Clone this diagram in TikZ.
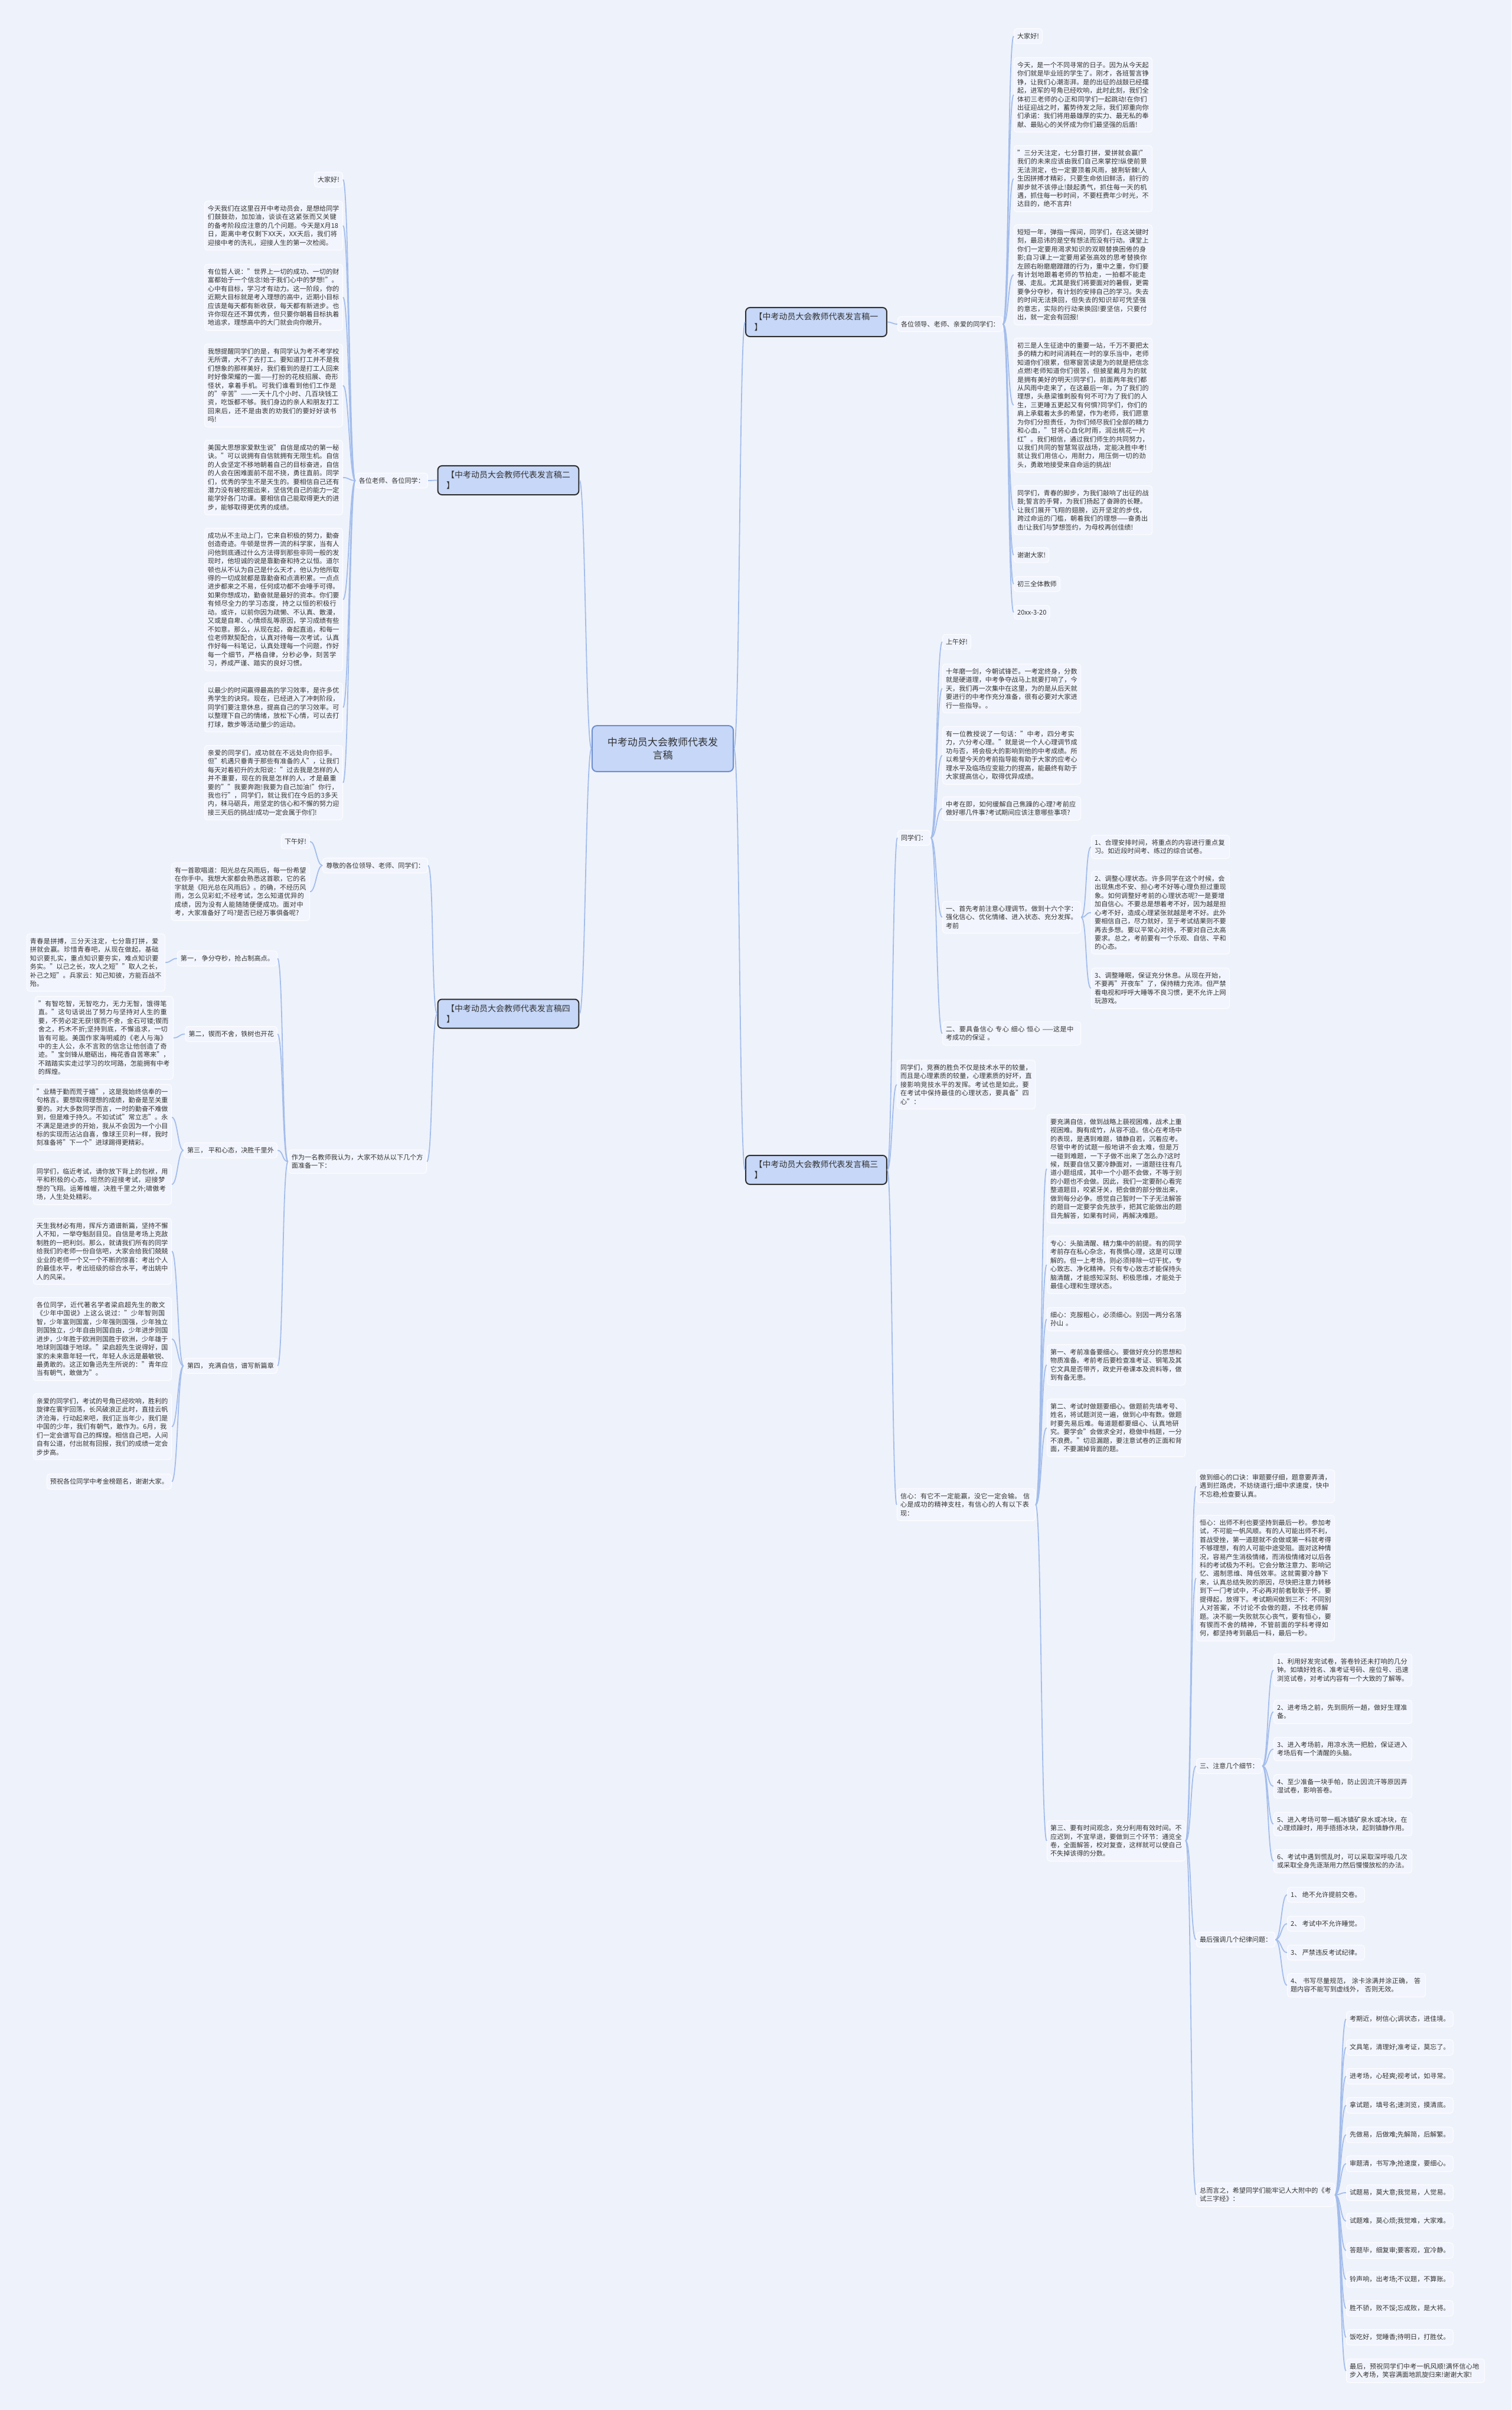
\documentclass[tikz,border=0pt]{standalone}
\usepackage{fontspec}
\setmainfont{Noto Sans CJK SC}
\XeTeXlinebreaklocale "zh"
\XeTeXlinebreakskip=0pt plus 0.5pt
\usepackage{tikz}
\definecolor{bgcol}{HTML}{EEF2FB}
\definecolor{boxfill}{HTML}{F2F5FD}
\definecolor{boxline}{HTML}{FDFDFF}
\definecolor{linkcol}{HTML}{A3BDEB}
\definecolor{branchfill}{HTML}{C6D7F8}
\definecolor{branchline}{HTML}{2F2F2F}
\definecolor{rootline}{HTML}{6F8FCF}
\definecolor{textcol}{HTML}{333333}

\begin{document}
\begin{tikzpicture}[
  link/.style={draw=linkcol, line width=0.018cm},
  txt/.style={draw=boxline, fill=boxfill, line width=0.012cm, rounded corners=0.05cm, inner xsep=0.055cm, inner ysep=0.075cm, text=textcol, font=\fontsize{3.16}{4.1}\selectfont},
  para/.style={txt, text width=2.23cm, align=left},
  branch/.style={draw=branchline, fill=branchfill, line width=0.02cm, rounded corners=0.07cm, inner xsep=0.145cm, inner ysep=0.09cm, text=textcol, align=left, font=\fontsize{3.98}{5.12}\selectfont},
  root/.style={draw=rootline, fill=branchfill, line width=0.02cm, rounded corners=0.08cm, inner xsep=0.26cm, inner ysep=0.2cm, text=textcol, align=center, font=\fontsize{4.84}{6.26}\selectfont}
]
\fill[bgcol] (0,0) rectangle (25.60,-40.82);
\useasboundingbox (0,0) rectangle (25.60,-40.82);

\node[root] (MapC) at (11.225,-12.68) {中考动员大会教师代表发\\言稿};
\node[branch] (Map1) at (13.825,-5.455) {【中考动员大会教师代表发言稿一\\】};
\node[branch] (Map2) at (8.61,-8.135) {【中考动员大会教师代表发言稿二\\】};
\node[branch] (Map4) at (8.61,-17.17) {【中考动员大会教师代表发言稿四\\】};
\node[branch] (Map3) at (13.825,-19.815) {【中考动员大会教师代表发言稿三\\】};

\node[txt, anchor=west] (Map1T) at (15.20,-5.49) {各位领导、老师、亲爱的同学们：};
\node[txt, anchor=north west] (Map1N1) at (17.17,-0.48) {大家好!};
\node[para, anchor=north west] (Map1N2) at (17.17,-0.97) {今天，是一个不同寻常的日子。因为从今天起你们就是毕业班的学生了。刚才，各班誓言铮铮，让我们心潮澎湃。是的出征的战鼓已经擂起，进军的号角已经吹响，此时此刻，我们全体初三老师的心正和同学们一起跳动!在你们出征迎战之时，蓄势待发之际，我们郑重向你们承诺：我们将用最雄厚的实力、最无私的奉献、最贴心的关怀成为你们最坚强的后盾!};
\node[para, anchor=north west] (Map1N3) at (17.17,-2.46) {"三分天注定，七分靠打拼，爱拼就会赢!"我们的未来应该由我们自己来掌控!纵使前景无法测定，也一定要顶着风雨，披荆斩棘!人生因拼搏才精彩，只要生命依旧鲜活，前行的脚步就不该停止!鼓起勇气，抓住每一天的机遇，抓住每一秒时间，不要枉费年少时光，不达目的，绝不言弃!};
\node[para, anchor=north west] (Map1N4) at (17.17,-3.80) {短短一年，弹指一挥间，同学们，在这关键时刻，最忌讳的是空有想法而没有行动。课堂上你们一定要用渴求知识的双眼替换困倦的身影;自习课上一定要用紧张高效的思考替换你左顾右盼磨磨蹭蹭的行为，重中之重，你们要有计划地跟着老师的节拍走，一拍都不能走慢、走乱。尤其是我们将要面对的暑假，更需要争分夺秒，有计划的安排自己的学习。失去的时间无法换回，但失去的知识却可凭坚强的意志，实际的行动来换回!要坚信，只要付出，就一定会有回报!};
\node[para, anchor=north west] (Map1N5) at (17.17,-5.72) {初三是人生征途中的重要一站，千万不要把太多的精力和时间消耗在一时的享乐当中，老师知道你们很累，但寒窗苦读是为的就是把信念点燃!老师知道你们很苦，但披星戴月为的就是拥有美好的明天!同学们，前面两年我们都从风雨中走来了，在这最后一年，为了我们的理想，头悬梁锥刺股有何不可?为了我们的人生，三更睡五更起又有何惧?同学们，你们的肩上承载着太多的希望，作为老师，我们愿意为你们分担责任，为你们倾尽我们全部的精力和心血，"甘将心血化时雨，润出桃花一片红"。我们相信，通过我们师生的共同努力，以我们共同的智慧驾驭战场，定能决胜中考!就让我们用信心，用耐力，用压倒一切的劲头，勇敢地接受来自命运的挑战!};
\node[para, anchor=north west] (Map1N6) at (17.17,-8.22) {同学们，青春的脚步，为我们敲响了出征的战鼓;誓言的手臂，为我们扬起了奋蹄的长鞭。让我们展开飞翔的翅膀，迈开坚定的步伐，跨过命运的门槛，朝着我们的理想——奋勇出击!让我们与梦想签约，为母校再创佳绩!};
\node[txt, anchor=north west] (Map1N7) at (17.17,-9.27) {谢谢大家!};
\node[txt, anchor=north west] (Map1N8) at (17.17,-9.76) {初三全体教师};
\node[txt, anchor=north west] (Map1N9) at (17.17,-10.25) {20xx-3-20};

\node[txt, anchor=east] (Map2T) at (7.25,-8.14) {各位老师、各位同学：};
\node[txt, anchor=north east] (Map2N1) at (5.81,-2.91) {大家好!};
\node[para, anchor=north east] (Map2N2) at (5.81,-3.40) {今天我们在这里召开中考动员会，是想给同学们鼓鼓劲，加加油，谈谈在这紧张而又关键的备考阶段应注意的几个问题。今天是X月18日，距离中考仅剩下XX天，XX天后，我们将迎接中考的洗礼，迎接人生的第一次检阅。};
\node[para, anchor=north east] (Map2N3) at (5.81,-4.47) {有位哲人说："世界上一切的成功、一切的财富都始于一个信念!始于我们心中的梦想!"。心中有目标，学习才有动力。这一阶段，你的近期大目标就是考入理想的高中，近期小目标应该是每天都有新收获，每天都有新进步。也许你现在还不算优秀，但只要你朝着目标执着地追求，理想高中的大门就会向你敞开。};
\node[para, anchor=north east] (Map2N4) at (5.81,-5.82) {我想提醒同学们的是，有同学认为考不考学校无所谓，大不了去打工。要知道打工并不是我们想象的那样美好，我们看到的是打工人回来时好像荣耀的一面——打扮的花枝招展、奇形怪状，拿着手机。可我们谁看到他们工作是的"辛苦"——一天十几个小时、几百块钱工资，吃饭都不够。我们身边的亲人和朋友打工回来后，还不是由衷的劝我们的要好好读书吗!};
\node[para, anchor=north east] (Map2N5) at (5.81,-7.45) {美国大思想家爱默生说"自信是成功的第一秘诀。"可以说拥有自信就拥有无限生机。自信的人会坚定不移地朝着自己的目标奋进，自信的人会在困难面前不屈不挠，勇往直前。同学们，优秀的学生不是天生的。要相信自己还有潜力没有被挖掘出来，坚信凭自己的能力一定能学好各门功课。要相信自己能取得更大的进步，能够取得更优秀的成绩。};
\node[para, anchor=north east] (Map2N6) at (5.81,-8.94) {成功从不主动上门，它来自积极的努力，勤奋创造奇迹。牛顿是世界一流的科学家，当有人问他到底通过什么方法得到那些非同一般的发现时，他坦诚的说是靠勤奋和持之以恒。道尔顿也从不认为自己是什么天才，他认为他所取得的一切成就都是靠勤奋和点滴积累。一点点进步都来之不易，任何成功都不会唾手可得。如果你想成功，勤奋就是最好的资本。你们要有倾尽全力的学习态度，持之以恒的积极行动。或许，以前你因为疏懒、不认真、散漫，又或是自卑、心情烦乱等原因，学习成绩有些不如意。那么，从现在起，奋起直追，和每一位老师默契配合，认真对待每一次考试，认真作好每一科笔记，认真处理每一个问题，作好每一个细节，严格自律，分秒必争，刻苦学习，养成严谨、踏实的良好习惯。};
\node[para, anchor=north east] (Map2N7) at (5.81,-11.56) {以最少的时间赢得最高的学习效率，是许多优秀学生的诀窍。现在，已经进入了冲刺阶段，同学们要注意休息，提高自己的学习效率。可以整理下自己的情绪，放松下心情，可以去打打球，散步等活动量少的运动。};
\node[para, anchor=north east] (Map2N8) at (5.81,-12.62) {亲爱的同学们，成功就在不远处向你招手。但"机遇只垂青于那些有准备的人"，让我们每天对着初升的太阳说："过去我是怎样的人并不重要，现在的我是怎样的人，才是最重要的""我要奔跑!我要为自己加油!"你行，我也行"，同学们，就让我们在今后的3多天内，秣马砺兵，用坚定的信心和不懈的努力迎接三天后的挑战!成功一定会属于你们!};

\node[txt, anchor=east] (Map4T) at (7.25,-14.66) {尊敬的各位领导、老师、同学们：};
\node[txt, anchor=north east] (Map4N1) at (5.25,-14.12) {下午好!};
\node[para, anchor=north east] (Map4N2) at (5.25,-14.61) {有一首歌唱道：阳光总在风雨后，每一份希望在你手中。我想大家都会熟悉这首歌，它的名字就是《阳光总在风雨后》。的确，不经历风雨，怎么见彩虹;不经考试，怎么知道优异的成绩，因为没有人能随随便便成功。面对中考，大家准备好了吗?是否已经万事俱备呢?};
\node[para, anchor=north east] (Map4U) at (7.23,-19.47) {作为一名教师我认为，大家不妨从以下几个方面准备一下：};
\node[txt, anchor=north east] (Map4D1) at (4.70,-16.10) {第一， 争分夺秒，抢占制高点。};
\node[txt, anchor=north east] (Map4D2) at (4.70,-17.38) {第二，锲而不舍，铁树也开花};
\node[txt, anchor=north east] (Map4D3) at (4.70,-19.35) {第三， 平和心态，决胜千里外};
\node[txt, anchor=north east] (Map4D4) at (4.70,-23.00) {第四， 充满自信，谱写新篇章};
\node[para, anchor=north east] (Map4D1C1) at (2.80,-15.81) {青春是拼搏，三分天注定，七分靠打拼，爱拼就会赢。珍惜青春吧，从现在做起，基础知识要扎实，重点知识要夯实，难点知识要务实。"以己之长，攻人之短""取人之长，补己之短"。兵家云：知己知彼，方能百战不殆。};
\node[para, anchor=north east] (Map4D2C1) at (2.94,-16.87) {"有智吃智，无智吃力，无力无智，饿得笔直。"这句话说出了努力与坚持对人生的重要，不劳必定无获!锲而不舍，金石可镂;锲而舍之，朽木不折;坚持到底，不懈追求，一切皆有可能。美国作家海明威的《老人与海》中的主人公，永不言败的信念让他创造了奇迹。"宝剑锋从磨砺出，梅花香自苦寒来"，不踏踏实实走过学习的坎坷路，怎能拥有中考的辉煌。};
\node[para, anchor=north east] (Map4D3C1) at (2.91,-18.36) {"业精于勤而荒于嬉"，这是我始终信奉的一句格言。要想取得理想的成绩，勤奋是至关重要的。对大多数同学而言，一时的勤奋不难做到，但是难于持久。不如试试"常立志"。永不满足是进步的开始，我从不会因为一个小目标的实现而沾沾自喜，像球王贝利一样，我时刻准备将"下一个"进球踢得更精彩。};
\node[para, anchor=north east] (Map4D3C2) at (2.91,-19.71) {同学们，临近考试，请你放下背上的包袱，用平和积极的心态，坦然的迎接考试，迎接梦想的飞翔。运筹帷幄，决胜千里之外;啸傲考场，人生处处精彩。};
\node[para, anchor=north east] (Map4D4C1) at (2.91,-20.63) {天生我材必有用，挥斥方遒谱新篇，坚持不懈人不知，一举夺魁刮目见。自信是考场上克敌制胜的一把利剑。那么，就请我们所有的同学给我们的老师一份自信吧，大家会给我们兢兢业业的老师一个又一个不断的惊喜：考出个人的最佳水平，考出班级的综合水平，考出姚中人的风采。};
\node[para, anchor=north east] (Map4D4C2) at (2.91,-21.97) {各位同学，近代著名学者梁启超先生的散文《少年中国说》上这么说过："少年智则国智，少年富则国富，少年强则国强，少年独立则国独立，少年自由则国自由，少年进步则国进步，少年胜于欧洲则国胜于欧洲，少年雄于地球则国雄于地球。"梁启超先生说得好，国家的未来靠年轻一代，年轻人永远是最敏锐、最勇敢的。这正如鲁迅先生所说的："青年应当有朝气，敢做为"。};
\node[para, anchor=north east] (Map4D4C3) at (2.91,-23.60) {亲爱的同学们，考试的号角已经吹响，胜利的旋律在寰宇回荡，长风破浪正此时，直挂云帆济沧海，行动起来吧，我们正当年少，我们是中国的少年，我们有朝气，敢作为。6月，我们一定会谱写自己的辉煌。相信自己吧，人间自有公道，付出就有回报，我们的成绩一定会步步高。};
\node[txt, anchor=north east] (Map4D4C4) at (2.91,-24.96) {预祝各位同学中考金榜题名，谢谢大家。};

\node[txt, anchor=west] (Map3T) at (15.20,-14.19) {同学们：};
\node[txt, anchor=north west] (Map3N1) at (15.96,-10.74) {上午好!};
\node[para, anchor=north west] (Map3N2) at (15.96,-11.24) {十年磨一剑，今朝试锋芒。一考定终身，分数就是硬道理，中考争夺战马上就要打响了，今天，我们再一次集中在这里，为的是从后天就要进行的中考作充分准备，很有必要对大家进行一些指导。。};
\node[para, anchor=north west] (Map3N3) at (15.96,-12.30) {有一位教授说了一句话："中考，四分考实力，六分考心理。"就是说一个人心理调节成功与否，将会极大的影响到他的中考成绩。所以希望今天的考前指导能有助于大家的应考心理水平及临场应变能力的提高，能最终有助于大家提高信心，取得优异成绩。};
\node[para, anchor=north west] (Map3N4) at (15.96,-13.49) {中考在即，如何缓解自己焦躁的心理?考前应做好哪几件事?考试期间应该注意哪些事项?};
\node[para, anchor=north west] (Map3N5) at (15.96,-15.26) {一、首先考前注意心理调节。做到十六个字：强化信心、优化情绪、进入状态、充分发挥。考前};
\node[para, anchor=north west] (Map3N6) at (15.96,-17.30) {二、要具备信心 专心 细心 恒心 ——这是中考成功的保证 。};
\node[para, anchor=north west] (Map3N5I1) at (18.48,-14.14) {1、合理安排时间，将重点的内容进行重点复习。如近段时间考、练过的综合试卷。};
\node[para, anchor=north west] (Map3N5I2) at (18.48,-14.75) {2、调整心理状态。许多同学在这个时候，会出现焦虑不安、担心考不好等心理负担过重现象。如何调整好考前的心理状态呢?一是要增加自信心。不要总是想着考不好，因为越是担心考不好，造成心理紧张就越是考不好。此外要相信自己，尽力就好，至于考试结果则不要再去多想。要以平常心对待，不要对自己太高要求。总之，考前要有一个乐观、自信、平和的心态。};
\node[para, anchor=north west] (Map3N5I3) at (18.48,-16.39) {3、调整睡眠，保证充分休息。从现在开始，不要再"开夜车"了，保持精力充沛。但严禁看电视和呼呼大睡等不良习惯，更不允许上网玩游戏。};
\node[para, anchor=north west] (Map3S) at (15.19,-17.95) {同学们，竞赛的胜负不仅是技术水平的较量，而且是心理素质的较量，心理素质的好坏，直接影响竞技水平的发挥。考试也是如此，要在考试中保持最佳的心理状态，要具备"四心"：};
\node[para, anchor=north west] (Map3X) at (15.19,-25.21) {信心：有它不一定能赢，没它一定会输。 信心是成功的精神支柱，有信心的人有以下表现：};
\node[para, anchor=north west] (Map3X1) at (17.73,-18.87) {要充满自信，做到战略上藐视困难，战术上重视困难。胸有成竹，从容不迫。信心在考场中的表现，是遇到难题，镇静自若，沉着应考。尽管中考的试题一般地讲不会太难，但是万一碰到难题，一下子做不出来了怎么办?这时候，既要自信又要冷静面对，一道题往往有几道小题组成，其中一个小题不会做，不等于别的小题也不会做。因此，我们一定要耐心看完整道题目，咬紧牙关，把会做的部分做出来，做到每分必争。感觉自己暂时一下子无法解答的题目一定要学会先放手，把其它能做出的题目先解答，如果有时间，再解决难题。};
\node[para, anchor=north west] (Map3X2) at (17.73,-20.93) {专心：头脑清醒、精力集中的前提。有的同学考前存在私心杂念，有畏惧心理，这是可以理解的。但一上考场，则必须排除一切干扰，专心致志、净化精神。只有专心致志才能保持头脑清醒，才能感知深刻、积极思维，才能处于最佳心理和生理状态。};
\node[para, anchor=north west] (Map3X3) at (17.73,-22.14) {细心：克服粗心，必须细心。别因一两分名落孙山 。};
\node[para, anchor=north west] (Map3X4) at (17.73,-22.77) {第一、考前准备要细心。要做好充分的思想和物质准备。考前考后要检查准考证、钢笔及其它文具是否带齐，政史开卷课本及资料等，做到有备无患。};
\node[para, anchor=north west] (Map3X5) at (17.73,-23.69) {第二、考试时做题要细心。做题前先填考号、姓名，将试题浏览一遍，做到心中有数。做题时要先易后难。每道题都要细心、认真地研究。要学会"会做求全对，稳做中档题，一分不浪费。"切忌漏题，要注意试卷的正面和背面，不要漏掉背面的题。};
\node[para, anchor=north west] (Map3Y) at (17.73,-30.83) {第三、要有时间观念，充分利用有效时间。不应迟到，不宜早退，要做到三个环节：通览全卷，全面解答，校对复查，这样就可以使自己不失掉该得的分数。};
\node[para, anchor=north west] (Map3Y1) at (20.26,-24.89) {做到细心的口诀：审题要仔细，题意要弄清，遇到拦路虎，不妨绕道行;细中求速度，快中不忘稳;检查要认真。};
\node[para, anchor=north west] (Map3Y2) at (20.26,-25.66) {恒心：出师不利也要坚持到最后一秒。参加考试，不可能一帆风顺。有的人可能出师不利，首战受挫，第一道题就不会做或第一科就考得不够理想，有的人可能中途受阻。面对这种情况，容易产生消极情绪，而消极情绪对以后各科的考试极为不利。它会分散注意力、影响记忆、遏制思维、降低效率。这就需要冷静下来，认真总结失败的原因，尽快把注意力转移到下一门考试中，不必再对前者耿耿于怀。要提得起，放得下。考试期间做到三不：不同别人对答案，不讨论不会做的题，不找老师解题。决不能一失败就灰心丧气，要有恒心，要有锲而不舍的精神，不管前面的学科考得如何，都坚持考到最后一科，最后一秒。};
\node[txt, anchor=north west] (Map3Y3) at (20.26,-29.78) {三、注意几个细节：};
\node[txt, anchor=north west] (Map3Y4) at (20.26,-32.72) {最后强调几个纪律问题：};
\node[para, anchor=north west] (Map3Y5) at (20.26,-36.97) {总而言之，希望同学们能牢记人大附中的《考试三字经》：};
\node[para, anchor=north west] (Map3Y3I1) at (21.57,-28.01) {1、利用好发完试卷，答卷铃还未打响的几分钟。如填好姓名、准考证号码、座位号、迅速浏览试卷，对考试内容有一个大致的了解等。};
\node[para, anchor=north west] (Map3Y3I2) at (21.57,-28.79) {2、进考场之前，先到厕所一趟，做好生理准备。};
\node[para, anchor=north west] (Map3Y3I3) at (21.57,-29.42) {3、进入考场前，用凉水洗一把脸，保证进入考场后有一个清醒的头脑。};
\node[para, anchor=north west] (Map3Y3I4) at (21.57,-30.05) {4、至少准备一块手帕，防止因流汗等原因弄湿试卷，影响答卷。};
\node[para, anchor=north west] (Map3Y3I5) at (21.57,-30.69) {5、进入考场可带一瓶冰镇矿泉水或冰块，在心理烦躁时，用手捂捂冰块，起到镇静作用。};
\node[para, anchor=north west] (Map3Y3I6) at (21.57,-31.32) {6、考试中遇到慌乱时，可以采取深呼吸几次或采取全身先逐渐用力然后慢慢放松的办法。};
\node[txt, anchor=north west] (Map3Y4I1) at (21.80,-31.96) {1、 绝不允许提前交卷。};
\node[txt, anchor=north west] (Map3Y4I2) at (21.80,-32.45) {2、 考试中不允许睡觉。};
\node[txt, anchor=north west] (Map3Y4I3) at (21.80,-32.94) {3、 严禁违反考试纪律。};
\node[para, anchor=north west] (Map3Y4I4) at (21.80,-33.42) {4、 书写尽量规范， 涂卡涂满并涂正确， 答题内容不能写到虚线外， 否则无效。};
\node[txt, anchor=north west] (Map3Y5I1) at (22.80,-34.06) {考期近，树信心;调状态，进佳境。};
\node[txt, anchor=north west] (Map3Y5I2) at (22.80,-34.54) {文具笔，清理好;准考证，莫忘了。};
\node[txt, anchor=north west] (Map3Y5I3) at (22.80,-35.03) {进考场，心轻爽;视考试，如寻常。};
\node[txt, anchor=north west] (Map3Y5I4) at (22.80,-35.52) {拿试题，填号名;速浏览，摸清底。};
\node[txt, anchor=north west] (Map3Y5I5) at (22.80,-36.02) {先做易，后做难;先解简，后解繁。};
\node[txt, anchor=north west] (Map3Y5I6) at (22.80,-36.51) {审题清，书写净;抢速度，要细心。};
\node[txt, anchor=north west] (Map3Y5I7) at (22.80,-37.00) {试题易，莫大意;我觉易，人觉易。};
\node[txt, anchor=north west] (Map3Y5I8) at (22.80,-37.48) {试题难，莫心烦;我觉难，大家难。};
\node[txt, anchor=north west] (Map3Y5I9) at (22.80,-37.98) {答题毕，细复审;要客观，宜冷静。};
\node[txt, anchor=north west] (Map3Y5I10) at (22.80,-38.47) {铃声响，出考场;不议题，不算账。};
\node[txt, anchor=north west] (Map3Y5I11) at (22.80,-38.96) {胜不骄，败不馁;忘成败，是大将。};
\node[txt, anchor=north west] (Map3Y5I12) at (22.80,-39.45) {饭吃好，觉睡香;待明日，打胜仗。};
\node[para, anchor=north west] (Map3Y5I13) at (22.80,-39.95) {最后，预祝同学们中考一帆风顺!满怀信心地步入考场，笑容满面地凯旋归来!谢谢大家!};

\draw[link] (MapC.east) .. controls +(0.1,0) and +(-0.1,0) .. (Map1.west);
\draw[link] (MapC.east) .. controls +(0.1,0) and +(-0.1,0) .. (Map3.west);
\draw[link] (MapC.west) .. controls +(-0.1,0) and +(0.1,0) .. (Map2.east);
\draw[link] (MapC.west) .. controls +(-0.1,0) and +(0.1,0) .. (Map4.east);

\draw[link] (Map1.east) .. controls +(0.08,0) and +(-0.08,0) .. (Map1T.west);
\draw[link] (Map1T.east) .. controls +(0.1,0) and +(-0.1,0) .. (Map1N1.west);
\draw[link] (Map1T.east) .. controls +(0.1,0) and +(-0.1,0) .. (Map1N2.west);
\draw[link] (Map1T.east) .. controls +(0.1,0) and +(-0.1,0) .. (Map1N3.west);
\draw[link] (Map1T.east) .. controls +(0.1,0) and +(-0.1,0) .. (Map1N4.west);
\draw[link] (Map1T.east) .. controls +(0.1,0) and +(-0.1,0) .. (Map1N5.west);
\draw[link] (Map1T.east) .. controls +(0.1,0) and +(-0.1,0) .. (Map1N6.west);
\draw[link] (Map1T.east) .. controls +(0.1,0) and +(-0.1,0) .. (Map1N7.west);
\draw[link] (Map1T.east) .. controls +(0.1,0) and +(-0.1,0) .. (Map1N8.west);
\draw[link] (Map1T.east) .. controls +(0.1,0) and +(-0.1,0) .. (Map1N9.west);

\draw[link] (Map2.west) .. controls +(-0.1,0) and +(0.1,0) .. (Map2T.east);
\draw[link] (Map2T.west) .. controls +(-0.1,0) and +(0.1,0) .. (Map2N1.east);
\draw[link] (Map2T.west) .. controls +(-0.1,0) and +(0.1,0) .. (Map2N2.east);
\draw[link] (Map2T.west) .. controls +(-0.1,0) and +(0.1,0) .. (Map2N3.east);
\draw[link] (Map2T.west) .. controls +(-0.1,0) and +(0.1,0) .. (Map2N4.east);
\draw[link] (Map2T.west) .. controls +(-0.1,0) and +(0.1,0) .. (Map2N5.east);
\draw[link] (Map2T.west) .. controls +(-0.1,0) and +(0.1,0) .. (Map2N6.east);
\draw[link] (Map2T.west) .. controls +(-0.1,0) and +(0.1,0) .. (Map2N7.east);
\draw[link] (Map2T.west) .. controls +(-0.1,0) and +(0.1,0) .. (Map2N8.east);

\draw[link] (Map4.west) .. controls +(-0.1,0) and +(0.1,0) .. (Map4T.east);
\draw[link] (Map4.west) .. controls +(-0.1,0) and +(0.1,0) .. (Map4U.east);
\draw[link] (Map4T.west) .. controls +(-0.1,0) and +(0.1,0) .. (Map4N1.east);
\draw[link] (Map4T.west) .. controls +(-0.1,0) and +(0.1,0) .. (Map4N2.east);
\draw[link] (Map4U.west) .. controls +(-0.1,0) and +(0.1,0) .. (Map4D1.east);
\draw[link] (Map4U.west) .. controls +(-0.1,0) and +(0.1,0) .. (Map4D2.east);
\draw[link] (Map4U.west) .. controls +(-0.1,0) and +(0.1,0) .. (Map4D3.east);
\draw[link] (Map4U.west) .. controls +(-0.1,0) and +(0.1,0) .. (Map4D4.east);
\draw[link] (Map4D1.west) .. controls +(-0.1,0) and +(0.1,0) .. (Map4D1C1.east);
\draw[link] (Map4D2.west) .. controls +(-0.1,0) and +(0.1,0) .. (Map4D2C1.east);
\draw[link] (Map4D3.west) .. controls +(-0.1,0) and +(0.1,0) .. (Map4D3C1.east);
\draw[link] (Map4D3.west) .. controls +(-0.1,0) and +(0.1,0) .. (Map4D3C2.east);
\draw[link] (Map4D4.west) .. controls +(-0.1,0) and +(0.1,0) .. (Map4D4C1.east);
\draw[link] (Map4D4.west) .. controls +(-0.1,0) and +(0.1,0) .. (Map4D4C2.east);
\draw[link] (Map4D4.west) .. controls +(-0.1,0) and +(0.1,0) .. (Map4D4C3.east);
\draw[link] (Map4D4.west) .. controls +(-0.1,0) and +(0.1,0) .. (Map4D4C4.east);

\draw[link] (Map3.east) .. controls +(0.08,0) and +(-0.08,0) .. (Map3T.west);
\draw[link] (Map3.east) .. controls +(0.08,0) and +(-0.08,0) .. (Map3S.west);
\draw[link] (Map3.east) .. controls +(0.08,0) and +(-0.08,0) .. (Map3X.west);
\draw[link] (Map3T.east) .. controls +(0.1,0) and +(-0.1,0) .. (Map3N1.west);
\draw[link] (Map3T.east) .. controls +(0.1,0) and +(-0.1,0) .. (Map3N2.west);
\draw[link] (Map3T.east) .. controls +(0.1,0) and +(-0.1,0) .. (Map3N3.west);
\draw[link] (Map3T.east) .. controls +(0.1,0) and +(-0.1,0) .. (Map3N4.west);
\draw[link] (Map3T.east) .. controls +(0.1,0) and +(-0.1,0) .. (Map3N5.west);
\draw[link] (Map3T.east) .. controls +(0.1,0) and +(-0.1,0) .. (Map3N6.west);
\draw[link] (Map3N5.east) .. controls +(0.1,0) and +(-0.1,0) .. (Map3N5I1.west);
\draw[link] (Map3N5.east) .. controls +(0.1,0) and +(-0.1,0) .. (Map3N5I2.west);
\draw[link] (Map3N5.east) .. controls +(0.1,0) and +(-0.1,0) .. (Map3N5I3.west);
\draw[link] (Map3X.east) .. controls +(0.1,0) and +(-0.1,0) .. (Map3X1.west);
\draw[link] (Map3X.east) .. controls +(0.1,0) and +(-0.1,0) .. (Map3X2.west);
\draw[link] (Map3X.east) .. controls +(0.1,0) and +(-0.1,0) .. (Map3X3.west);
\draw[link] (Map3X.east) .. controls +(0.1,0) and +(-0.1,0) .. (Map3X4.west);
\draw[link] (Map3X.east) .. controls +(0.1,0) and +(-0.1,0) .. (Map3X5.west);
\draw[link] (Map3X.east) .. controls +(0.1,0) and +(-0.1,0) .. (Map3Y.west);
\draw[link] (Map3Y.east) .. controls +(0.1,0) and +(-0.1,0) .. (Map3Y1.west);
\draw[link] (Map3Y.east) .. controls +(0.1,0) and +(-0.1,0) .. (Map3Y2.west);
\draw[link] (Map3Y.east) .. controls +(0.1,0) and +(-0.1,0) .. (Map3Y3.west);
\draw[link] (Map3Y.east) .. controls +(0.1,0) and +(-0.1,0) .. (Map3Y4.west);
\draw[link] (Map3Y.east) .. controls +(0.1,0) and +(-0.1,0) .. (Map3Y5.west);
\draw[link] (Map3Y3.east) .. controls +(0.1,0) and +(-0.1,0) .. (Map3Y3I1.west);
\draw[link] (Map3Y3.east) .. controls +(0.1,0) and +(-0.1,0) .. (Map3Y3I2.west);
\draw[link] (Map3Y3.east) .. controls +(0.1,0) and +(-0.1,0) .. (Map3Y3I3.west);
\draw[link] (Map3Y3.east) .. controls +(0.1,0) and +(-0.1,0) .. (Map3Y3I4.west);
\draw[link] (Map3Y3.east) .. controls +(0.1,0) and +(-0.1,0) .. (Map3Y3I5.west);
\draw[link] (Map3Y3.east) .. controls +(0.1,0) and +(-0.1,0) .. (Map3Y3I6.west);
\draw[link] (Map3Y4.east) .. controls +(0.1,0) and +(-0.1,0) .. (Map3Y4I1.west);
\draw[link] (Map3Y4.east) .. controls +(0.1,0) and +(-0.1,0) .. (Map3Y4I2.west);
\draw[link] (Map3Y4.east) .. controls +(0.1,0) and +(-0.1,0) .. (Map3Y4I3.west);
\draw[link] (Map3Y4.east) .. controls +(0.1,0) and +(-0.1,0) .. (Map3Y4I4.west);
\draw[link] (Map3Y5.east) .. controls +(0.1,0) and +(-0.1,0) .. (Map3Y5I1.west);
\draw[link] (Map3Y5.east) .. controls +(0.1,0) and +(-0.1,0) .. (Map3Y5I2.west);
\draw[link] (Map3Y5.east) .. controls +(0.1,0) and +(-0.1,0) .. (Map3Y5I3.west);
\draw[link] (Map3Y5.east) .. controls +(0.1,0) and +(-0.1,0) .. (Map3Y5I4.west);
\draw[link] (Map3Y5.east) .. controls +(0.1,0) and +(-0.1,0) .. (Map3Y5I5.west);
\draw[link] (Map3Y5.east) .. controls +(0.1,0) and +(-0.1,0) .. (Map3Y5I6.west);
\draw[link] (Map3Y5.east) .. controls +(0.1,0) and +(-0.1,0) .. (Map3Y5I7.west);
\draw[link] (Map3Y5.east) .. controls +(0.1,0) and +(-0.1,0) .. (Map3Y5I8.west);
\draw[link] (Map3Y5.east) .. controls +(0.1,0) and +(-0.1,0) .. (Map3Y5I9.west);
\draw[link] (Map3Y5.east) .. controls +(0.1,0) and +(-0.1,0) .. (Map3Y5I10.west);
\draw[link] (Map3Y5.east) .. controls +(0.1,0) and +(-0.1,0) .. (Map3Y5I11.west);
\draw[link] (Map3Y5.east) .. controls +(0.1,0) and +(-0.1,0) .. (Map3Y5I12.west);
\draw[link] (Map3Y5.east) .. controls +(0.1,0) and +(-0.1,0) .. (Map3Y5I13.west);
\end{tikzpicture}
\end{document}
